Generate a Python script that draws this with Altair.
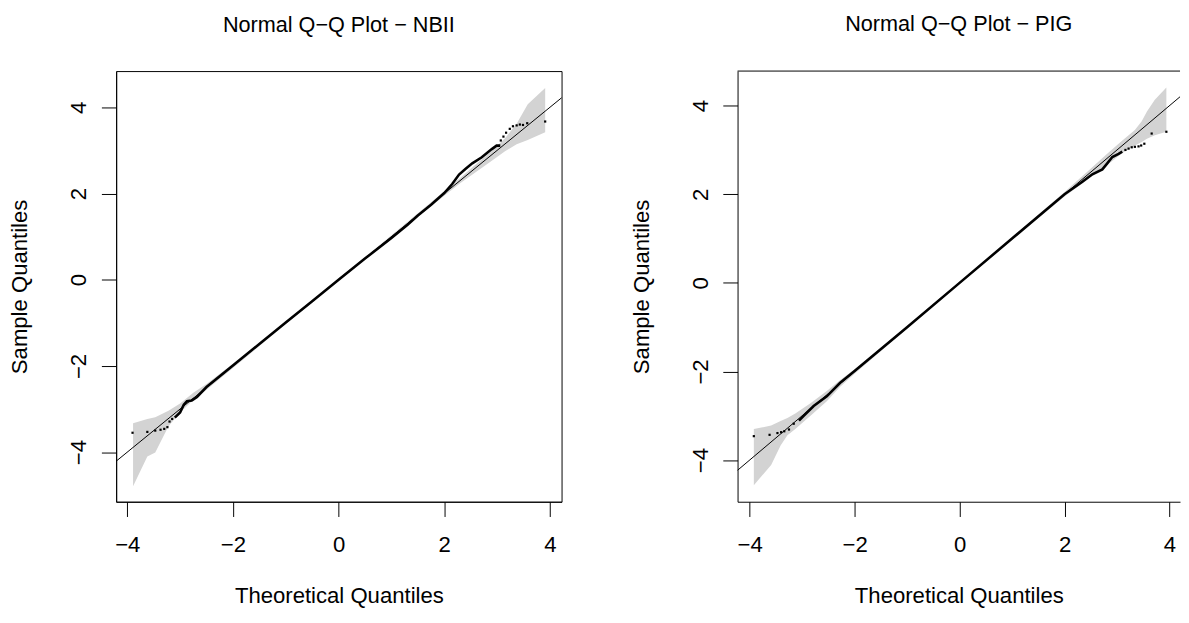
import altair as alt
import pandas as pd

FONT = "Liberation Sans"
F_LAB = 22.5
F_TIT = 22

# ---------------- NBII panel ----------------
nb_band_x  = [-3.89, -3.62, -3.47, -3.22, -3.00, -2.75, -2.50, -2.00, -1.00, 0.00, 1.00, 2.00, 2.30, 2.60, 2.90, 3.15, 3.37, 3.58, 3.91]
nb_band_lo = [-4.79, -4.10, -4.01, -3.40, -3.08, -2.79, -2.55, -2.05, -1.03, -0.03, 0.97, 1.95, 2.24, 2.50, 2.76, 2.98, 3.14, 3.24, 3.42]
nb_band_hi = [-3.33, -3.23, -3.19, -3.04, -2.87, -2.62, -2.42, -1.95, -0.97, 0.03, 1.03, 2.05, 2.36, 2.68, 2.99, 3.28, 3.62, 4.07, 4.45]

nb_path_x = [-3.10, -3.00, -2.93, -2.87, -2.78, -2.68, -2.50, -2.00, -1.50, -1.00, -0.50, 0.00, 0.50, 1.00, 1.30, 1.50, 1.75, 2.00, 2.15, 2.28, 2.40, 2.53, 2.71, 2.90, 2.99, 3.06]
nb_path_y = [-3.20, -3.08, -2.90, -2.82, -2.80, -2.72, -2.49, -1.99, -1.49, -0.99, -0.50, 0.00, 0.49, 0.97, 1.27, 1.49, 1.74, 2.01, 2.22, 2.44, 2.57, 2.70, 2.84, 3.03, 3.11, 3.11]

nb_dot_x = [-3.90, -3.62, -3.47, -3.37, -3.30, -3.24, -3.20, -3.15, 3.07, 3.12, 3.17, 3.24, 3.30, 3.37, 3.43, 3.49, 3.57, 3.91]
nb_dot_y = [-3.55, -3.53, -3.50, -3.48, -3.46, -3.42, -3.29, -3.23, 3.23, 3.32, 3.41, 3.50, 3.56, 3.58, 3.60, 3.59, 3.63, 3.67]

nb_ref_x = [-5.0, 5.0]
nb_ref_y = [-5.0, 5.0]

# ---------------- PIG panel ----------------
pg_band_x  = [-3.92, -3.59, -3.41, -3.28, -3.13, -2.84, -2.53, -2.28, -2.00, -1.00, 0.00, 1.00, 2.00, 2.47, 2.78, 3.09, 3.34, 3.47, 3.57, 3.72, 3.94]
pg_band_lo = [-4.57, -4.11, -3.67, -3.44, -3.30, -3.00, -2.67, -2.35, -2.05, -1.03, -0.03, 0.97, 1.95, 2.36, 2.63, 2.92, 3.10, 3.18, 3.25, 3.33, 3.41]
pg_band_hi = [-3.30, -3.22, -3.12, -3.05, -2.95, -2.72, -2.44, -2.20, -1.95, -0.97, 0.03, 1.03, 2.05, 2.55, 2.88, 3.20, 3.45, 3.65, 3.87, 4.13, 4.41]

pg_path_x = [-3.06, -2.97, -2.78, -2.53, -2.28, -2.00, -1.00, 0.00, 1.00, 2.00, 2.34, 2.53, 2.72, 2.81, 2.91, 3.03, 3.10]
pg_path_y = [-3.11, -3.00, -2.78, -2.56, -2.26, -1.99, -1.00, 0.00, 1.00, 2.00, 2.28, 2.45, 2.56, 2.69, 2.84, 2.91, 2.96]

pg_dot_x = [-3.92, -3.62, -3.47, -3.40, -3.34, -3.25, -3.16, 3.16, 3.22, 3.28, 3.34, 3.41, 3.46, 3.52, 3.66, 3.94]
pg_dot_y = [-3.46, -3.43, -3.39, -3.37, -3.35, -3.31, -3.18, 3.00, 3.03, 3.06, 3.07, 3.08, 3.10, 3.14, 3.37, 3.41]

pg_ref_x = [-5.0, 5.0]
pg_ref_y = [-5.0, 5.0]

TICKS = [-4, -2, 0, 2, 4]


def panel(title, bx, blo, bhi, px, py, dx, dy, rx, ry, xdom, ydom, w, h, right_frame):
    band = pd.DataFrame({"x": bx, "lo": blo, "hi": bhi})
    path = pd.DataFrame({"x": px, "y": py})
    dots = pd.DataFrame({"x": dx, "y": dy})
    ref = pd.DataFrame({"x": rx, "y": ry})

    xs = alt.Scale(domain=xdom, nice=False, zero=False)
    ys = alt.Scale(domain=ydom, nice=False, zero=False)
    xax = alt.Axis(values=TICKS, title="Theoretical Quantiles", titleY=102,
                   titleBaseline="alphabetic", labelBaseline="alphabetic",
                   labelPadding=36, grid=False)
    yax = alt.Axis(values=TICKS, title="Sample Quantiles", titleX=-91,
                   titleBaseline="alphabetic", labelAngle=270, labelAlign="center",
                   labelBaseline="alphabetic", labelPadding=16, grid=False)

    X = alt.X("x:Q", scale=xs, axis=xax)

    l_band = alt.Chart(band).mark_area(color="#d3d3d3", opacity=1).encode(
        x=X, y=alt.Y("lo:Q", scale=ys, axis=yax), y2="hi:Q")
    l_ref = alt.Chart(ref).mark_line(color="black", strokeWidth=1, clip=True).encode(
        x=X, y=alt.Y("y:Q", scale=ys, axis=yax))
    l_path = alt.Chart(path).mark_line(color="black", strokeWidth=2.6).encode(
        x=X, y=alt.Y("y:Q", scale=ys, axis=yax))
    l_dots = alt.Chart(dots).mark_square(color="black", size=5, opacity=1).encode(
        x=X, y=alt.Y("y:Q", scale=ys, axis=yax))
    layers = [l_band, l_ref, l_path, l_dots]
    if right_frame is not None:
        top = pd.DataFrame({"x": [xdom[0]], "x2": [xdom[1]], "y": [ydom[1]]})
        l_top = alt.Chart(top).mark_rule(color="black", strokeWidth=1).encode(
            x=X, x2="x2:Q", y=alt.Y("y:Q", scale=ys, axis=yax))
        layers.append(l_top)
    ch = alt.layer(*layers).properties(
        width=w, height=h,
        title=alt.TitleParams(title, font=FONT, fontSize=F_TIT, fontWeight="normal",
                              color="black", anchor="middle", baseline="alphabetic",
                              offset=18),
    )
    if right_frame is not None:
        ch = ch.properties(view=alt.ViewBackground(stroke="transparent"))
    return ch


left = panel("Normal Q\u2212Q Plot \u2212 NBII", nb_band_x, nb_band_lo, nb_band_hi,
             nb_path_x, nb_path_y, nb_dot_x, nb_dot_y, nb_ref_x, nb_ref_y,
             [-4.21, 4.22], [-5.15, 4.84], 453, 438, None)
right = panel("Normal Q\u2212Q Plot \u2212 PIG", pg_band_x, pg_band_lo, pg_band_hi,
              pg_path_x, pg_path_y, pg_dot_x, pg_dot_y, pg_ref_x, pg_ref_y,
              [-4.23, 4.20], [-4.94, 4.78], 450, 438, True)

chart = alt.hconcat(left, right, spacing=68).properties(
    padding={"left": 0, "top": 0, "right": 0, "bottom": 0},
    background="white",
).configure_view(stroke="black", strokeWidth=1).configure_axis(
    grid=False, domain=True, domainColor="black", domainWidth=1,
    tickColor="black", tickSize=15, tickWidth=1,
    labelFont=FONT, labelFontSize=F_LAB, labelColor="black",
    titleFont=FONT, titleFontSize=F_LAB, titleColor="black", titleFontWeight="normal",
)

chart.save("out.html", embed_options={"renderer": "svg", "actions": False})
